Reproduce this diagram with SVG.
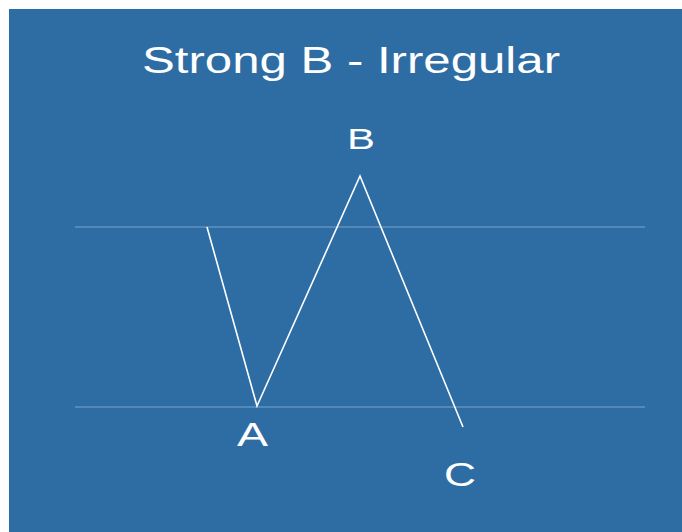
<svg xmlns="http://www.w3.org/2000/svg" width="682" height="532" viewBox="0 0 682 532">
<style>
.lbl{font-family:"Liberation Sans",Arial,sans-serif;fill:#ffffff;text-anchor:middle}
.guide{stroke:#7aa3cb;stroke-width:1.2;fill:none}
.wave{stroke:#ffffff;stroke-width:1.6;fill:none;stroke-linejoin:miter}
</style>
<rect x="0" y="0" width="682" height="532" fill="#ffffff"/>
<rect x="9" y="9" width="673" height="523" fill="#2e6da4"/>
<g id="title"><text class="lbl" x="351" y="73" font-size="36" textLength="418" lengthAdjust="spacingAndGlyphs">Strong B - Irregular</text></g>
<g id="guides">
<line class="guide" x1="75" y1="227" x2="645" y2="227"/>
<line class="guide" x1="75" y1="407" x2="645" y2="407"/>
</g>
<g id="connectors">
<polyline class="wave" points="207,227 257,406 360,176 463,427"/>
</g>
<g id="nodeA"><text class="lbl" x="252.5" y="446" font-size="33" textLength="31" lengthAdjust="spacingAndGlyphs">A</text></g>
<g id="nodeB"><text class="lbl" x="361" y="149" font-size="30" textLength="28" lengthAdjust="spacingAndGlyphs">B</text></g>
<g id="nodeC"><text class="lbl" x="460" y="486" font-size="33" textLength="32" lengthAdjust="spacingAndGlyphs">C</text></g>
</svg>
